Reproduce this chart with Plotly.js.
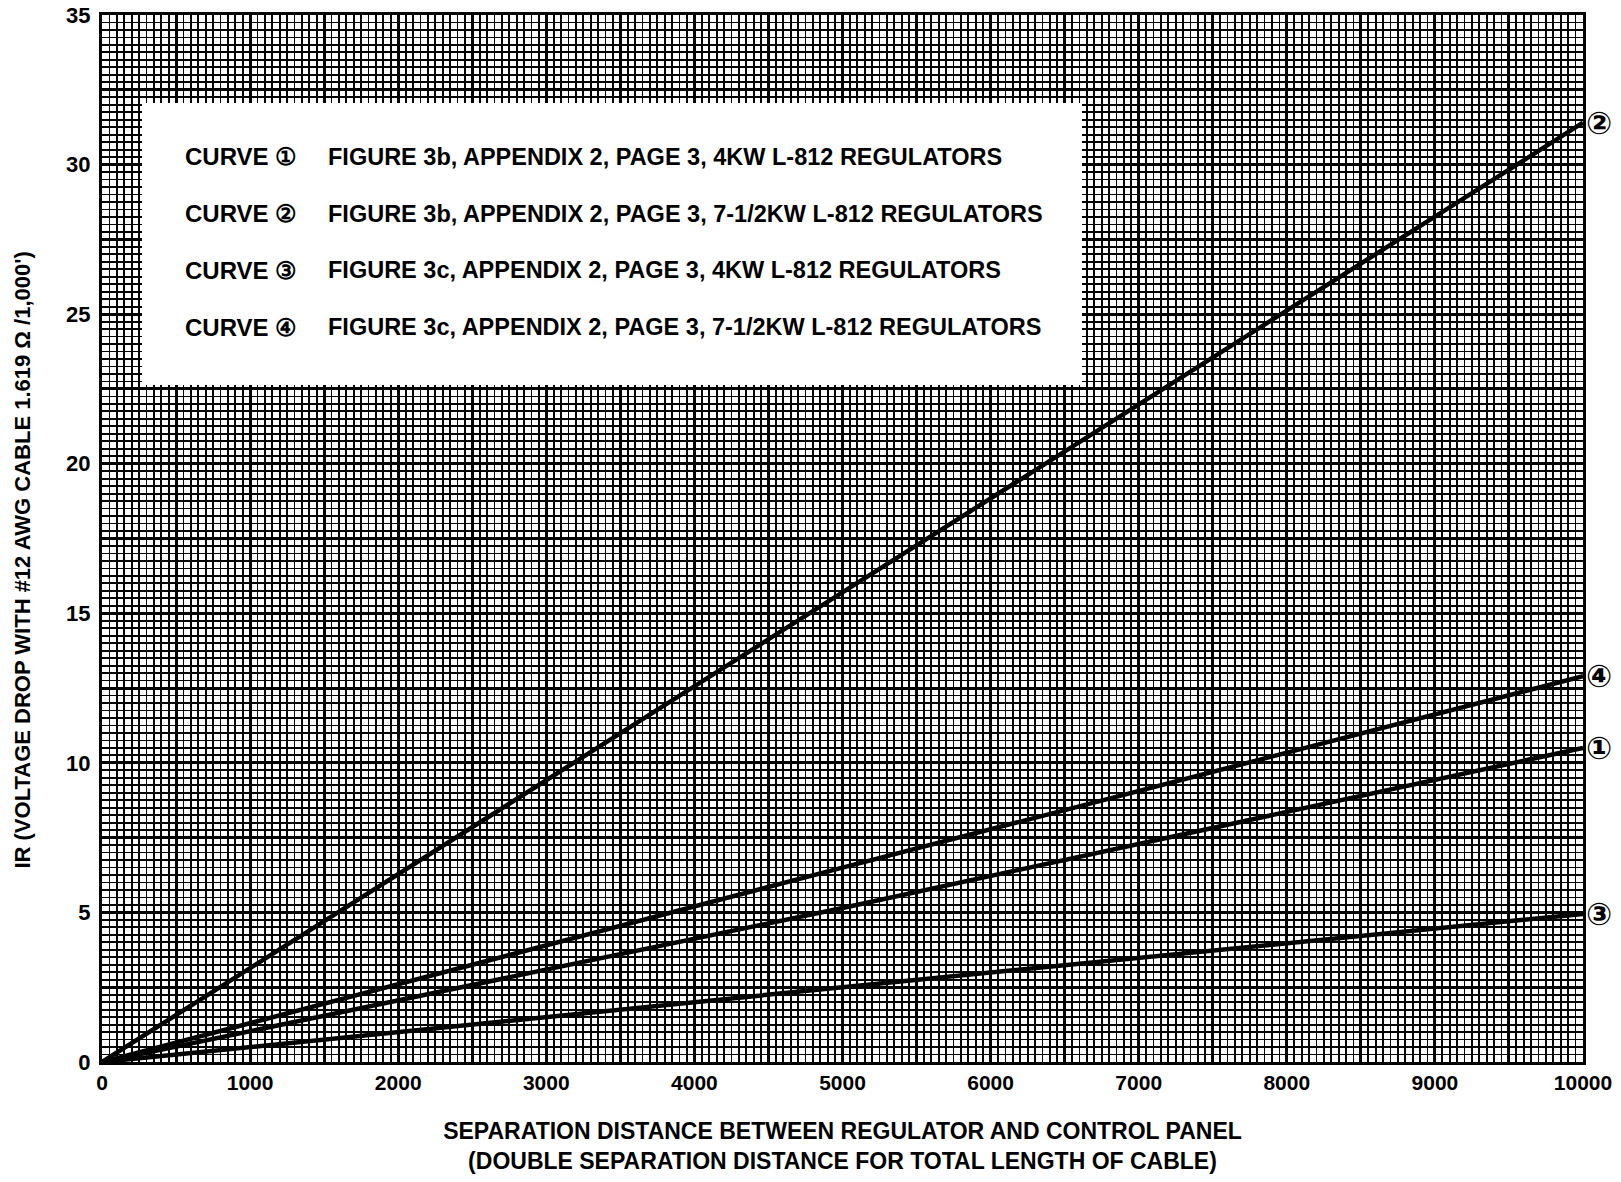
<!DOCTYPE html>
<html>
<head>
<meta charset="utf-8">
<script src="https://cdn.plot.ly/plotly-3.0.1.min.js"></script>
<style>html,body{margin:0;padding:0;background:#fff;}#chart{width:1621px;height:1182px;}</style>
</head>
<body>
<div id="chart"></div>
<script>
// ---- data ----
const distance = [0, 5000, 10000];
const curve1 = [0, 5.15, 10.5];
const curve2 = [0, 15.7, 31.4];
const curve3 = [0, 2.5, 4.95];
const curve4 = [0, 6.5, 12.9];
const curveLabels = ['①', '②', '③', '④'];
const curveNames = ['CURVE ①', 'CURVE ②', 'CURVE ③', 'CURVE ④'];
const curveDescriptions = [
  'FIGURE 3b, APPENDIX 2, PAGE 3, 4KW L-812 REGULATORS',
  'FIGURE 3b, APPENDIX 2, PAGE 3, 7-1/2KW L-812 REGULATORS',
  'FIGURE 3c, APPENDIX 2, PAGE 3, 4KW L-812 REGULATORS',
  'FIGURE 3c, APPENDIX 2, PAGE 3, 7-1/2KW L-812 REGULATORS'
];
const xTickValues = [0,500,1000,1500,2000,2500,3000,3500,4000,4500,5000,5500,6000,6500,7000,7500,8000,8500,9000,9500,10000];
const xTickLabels = ['0','','1000','','2000','','3000','','4000','','5000','','6000','','7000','','8000','','9000','','10000'];
const yTickValues = [0,2.5,5,7.5,10,12.5,15,17.5,20,22.5,25,27.5,30,32.5,35];
const yTickLabels = ['0','','5','','10','','15','','20','','25','','30','','35'];
const xTitle = 'SEPARATION DISTANCE BETWEEN REGULATOR AND CONTROL PANEL<br>(DOUBLE SEPARATION DISTANCE FOR TOTAL LENGTH OF CABLE)';
const yTitle = "IR (VOLTAGE DROP WITH #12 AWG CABLE 1.619 Ω /1,000')";

// ---- drawing ----
const FONT = 'Liberation Sans, Arial, sans-serif';
const series = [curve1, curve2, curve3, curve4];
const traces = series.map((ys, i) => ({
  type: 'scatter', mode: 'lines', x: distance, y: ys,
  name: curveNames[i], showlegend: false,
  line: {color: '#000', width: 4.5}, cliponaxis: false
}));

const annotations = [];
series.forEach((ys, i) => {
  annotations.push({
    x: distance[distance.length - 1], y: ys[ys.length - 1], xref: 'x', yref: 'y',
    text: '<b>' + curveLabels[i] + '</b>', showarrow: false, xanchor: 'left', yanchor: 'middle', xshift: 1,
    font: {family: 'DejaVu Sans, sans-serif', size: 31, color: '#000'}
  });
});
const rowY = [0.8644, 0.810, 0.7564, 0.702];
curveNames.forEach((nm, i) => {
  annotations.push({
    x: 0.055, y: rowY[i], xref: 'paper', yref: 'paper', text: '<b>' + nm + '</b>',
    showarrow: false, xanchor: 'left', yanchor: 'middle',
    font: {family: FONT, size: 24, color: '#000'}
  });
  annotations.push({
    x: 0.1515, y: rowY[i], xref: 'paper', yref: 'paper', text: '<b>' + curveDescriptions[i] + '</b>',
    showarrow: false, xanchor: 'left', yanchor: 'middle',
    font: {family: FONT, size: 23.5, color: '#000'}
  });
});

const layout = {
  width: 1621, height: 1182,
  margin: {l: 102, r: 38, t: 15, b: 120},
  paper_bgcolor: '#fff', plot_bgcolor: '#fff',
  font: {family: FONT, color: '#000'},
  xaxis: {
    range: [0, 10000], tickmode: 'array', tickvals: xTickValues, ticktext: xTickLabels,
    showgrid: true, gridcolor: '#000', gridwidth: 3,
    minor: {dtick: 50, showgrid: true, gridcolor: '#000', gridwidth: 1.8, ticks: ''},
    showline: true, linecolor: '#000', linewidth: 3, mirror: true, zeroline: false,
    ticks: '', ticklabelstandoff: 0,
    tickfont: {family: FONT, size: 21, color: '#000', weight: 'bold'},
    title: {text: '<b>' + xTitle + '</b>', standoff: 30, font: {family: FONT, size: 23, color: '#000'}},
    fixedrange: true
  },
  yaxis: {
    range: [0, 35], tickmode: 'array', tickvals: yTickValues, ticktext: yTickLabels,
    showgrid: true, gridcolor: '#000', gridwidth: 3,
    minor: {dtick: 0.25, showgrid: true, gridcolor: '#000', gridwidth: 1.8, ticks: ''},
    showline: true, linecolor: '#000', linewidth: 3, mirror: true, zeroline: false,
    ticks: '', ticklabelstandoff: 4,
    tickfont: {family: FONT, size: 22, color: '#000', weight: 'bold'},
    title: {text: '<b>' + yTitle + '\u00a0\u00a0\u00a0\u00a0\u00a0\u00a0\u00a0</b>', standoff: 30, font: {family: FONT, size: 22, color: '#000'}},
    fixedrange: true
  },
  shapes: [{
    type: 'rect', xref: 'paper', yref: 'paper', x0: 0.027, x1: 0.6617, y0: 0.6466, y1: 0.916,
    fillcolor: '#fff', line: {width: 0}, layer: 'above'
  }],
  annotations: annotations
};
Plotly.newPlot('chart', traces, layout, {displayModeBar: false, staticPlot: true});
</script>
</body>
</html>
